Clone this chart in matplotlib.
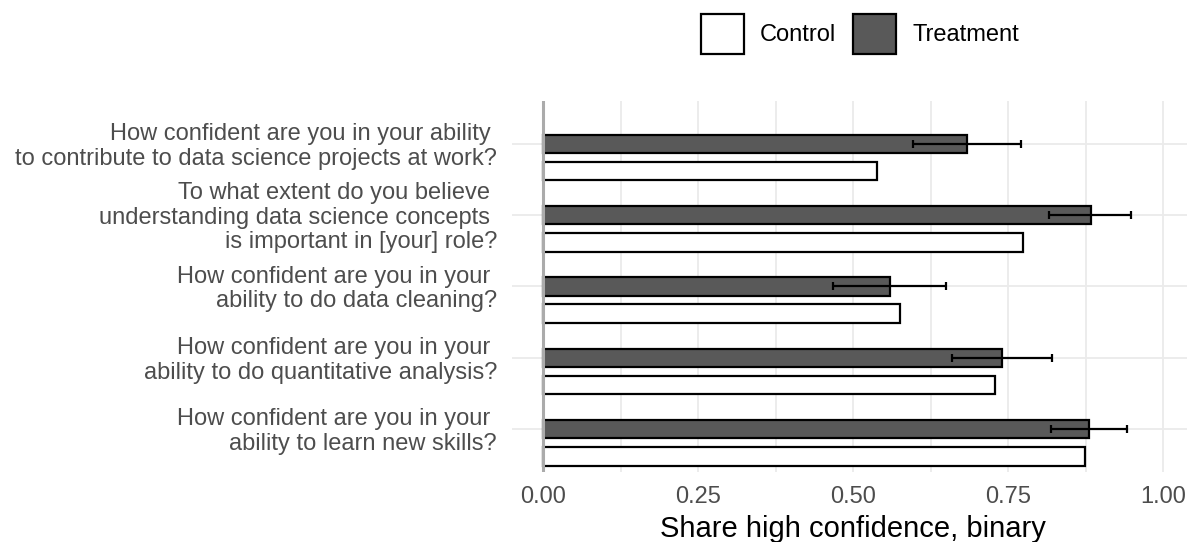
import matplotlib
matplotlib.use("Agg")
import matplotlib.pyplot as plt
from matplotlib.patches import Patch
import numpy as np

plt.rcParams["font.family"] = ["Liberation Sans", "DejaVu Sans"]

# Survey questions, listed top to bottom
questions = [
    "How confident are you in your ability \nto contribute to data science projects at work?",
    "To what extent do you believe \nunderstanding data science concepts \nis important in [your] role?",
    "How confident are you in your \nability to do data cleaning?",
    "How confident are you in your \nability to do quantitative analysis?",
    "How confident are you in your \nability to learn new skills?",
]
treatment = [0.684, 0.883, 0.560, 0.740, 0.881]
treatment_lo = [0.596, 0.816, 0.468, 0.659, 0.819]
treatment_hi = [0.770, 0.948, 0.650, 0.820, 0.941]
control = [0.539, 0.774, 0.575, 0.728, 0.873]

x_ticks = [0.0, 0.25, 0.5, 0.75, 1.0]
x_tick_labels = ["0.00", "0.25", "0.50", "0.75", "1.00"]
x_minor = [0.125, 0.375, 0.625, 0.875]

W, H = 1187, 542
fig = plt.figure(figsize=(W / 100, H / 100), dpi=100)
ax = fig.add_axes([512 / W, (H - 472) / H, (1194.3 - 512) / W, 371 / H])

n = len(questions)
ypos = np.arange(n, 0, -1).astype(float)  # first question on top
bar_h = 0.26
offset = 0.38

treat = np.array(treatment)
lo = np.array(treatment_lo)
hi = np.array(treatment_hi)

grid_kw = dict(color="#ebebeb", lw=1.3, zorder=0)
for v in x_ticks + x_minor:
    ax.axvline(v, **grid_kw)
for y in ypos:
    ax.axhline(y, **grid_kw)

ax.barh(ypos, treat, height=bar_h, color="#595959", edgecolor="black",
        linewidth=1.6, zorder=2)
ax.barh(ypos - offset, control, height=bar_h, color="white", edgecolor="black",
        linewidth=1.6, zorder=2)
ax.errorbar(treat, ypos, xerr=[treat - lo, hi - treat], fmt="none",
            ecolor="black", elinewidth=1.6, capsize=2.6, capthick=1.6, zorder=3)

ax.axvline(0, color="#ababab", lw=2.2, zorder=4)

ax.set_xlim(-0.05, 1.05)
ax.set_ylim(0.4, n + 0.6)
for s in ax.spines.values():
    s.set_visible(False)

ax.set_xticks(x_ticks)
ax.set_xticklabels(x_tick_labels)
ax.tick_params(axis="x", length=0, pad=10, labelsize=17, labelcolor="#4d4d4d")
ax.set_yticks(ypos)
ax.set_yticklabels([])
ax.tick_params(axis="y", length=0)
ax.set_xlabel("Share high confidence, binary", fontsize=21, color="black",
              labelpad=5)

# Question labels, right-justified line by line (trailing spaces kept)
fs = 17
line_pt = 17.8
cap_pt = 0.716 * fs
space_pt = 0.278 * fs
for y, q in zip(ypos, questions):
    lines = q.split("\n")
    m = len(lines)
    for k, line in enumerate(lines):
        dx = -10.8
        if line.endswith(" "):
            dx -= space_pt
        dy = -((k - (m - 1) / 2) * line_pt + cap_pt / 2)
        ax.annotate(line.rstrip(), xy=(0, y), xycoords=ax.get_yaxis_transform(),
                    xytext=(dx, dy), textcoords="offset points",
                    ha="right", va="baseline", fontsize=fs, color="#4d4d4d",
                    annotation_clip=False)

handles = [Patch(facecolor="white", edgecolor="black", linewidth=1.6),
           Patch(facecolor="#595959", edgecolor="black", linewidth=1.6)]
fig.legend(handles, ["Control", "Treatment"], ncol=2, frameon=False,
           loc="center", bbox_to_anchor=(860 / W, 1 - 33.8 / H), fontsize=17,
           handlelength=1.82, handleheight=2.2, handletextpad=0.7,
           columnspacing=0.7)

fig.savefig("out.png", dpi=100)
